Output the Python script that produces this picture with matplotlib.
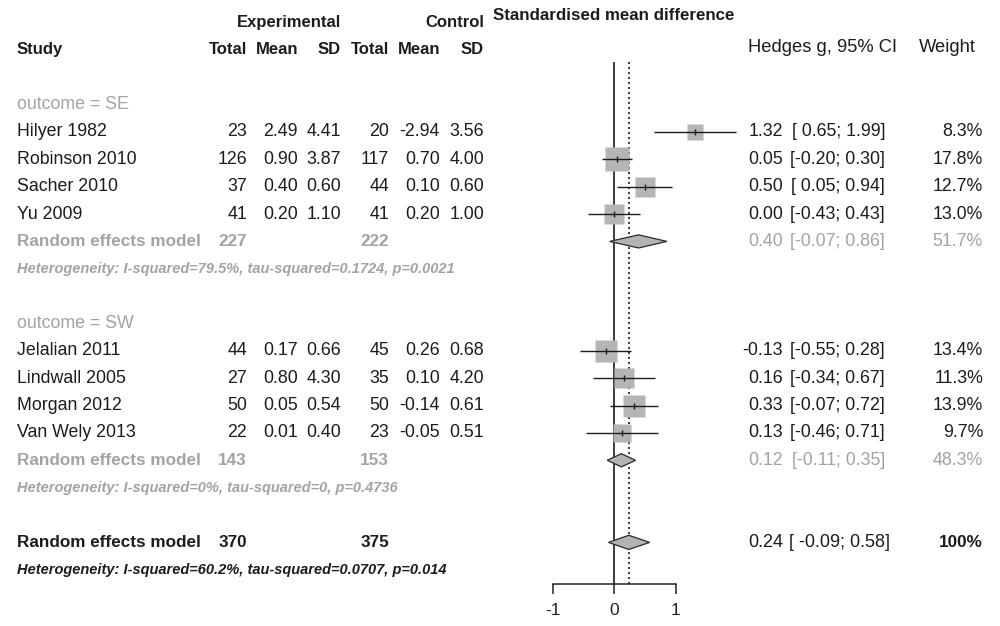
import matplotlib
matplotlib.use('Agg')
import matplotlib.pyplot as plt
from matplotlib.patches import Polygon
from matplotlib.transforms import blended_transform_factory
import numpy as np

plt.rcParams['font.family'] = ['Liberation Sans', 'DejaVu Sans']

# ---------------- data ----------------
groups = ["outcome = SE", "outcome = SW"]

studies_se = ["Hilyer 1982", "Robinson 2010", "Sacher 2010", "Yu 2009"]
exp_n_se = [23, 126, 37, 41]
exp_mean_se = [2.49, 0.90, 0.40, 0.20]
exp_sd_se = [4.41, 3.87, 0.60, 1.10]
ctl_n_se = [20, 117, 44, 41]
ctl_mean_se = [-2.94, 0.70, 0.10, 0.20]
ctl_sd_se = [3.56, 4.00, 0.60, 1.00]
g_se = [1.32, 0.05, 0.50, 0.00]
lo_se = [0.65, -0.20, 0.05, -0.43]
hi_se = [1.99, 0.30, 0.94, 0.43]
w_se = [8.3, 17.8, 12.7, 13.0]

studies_sw = ["Jelalian 2011", "Lindwall 2005", "Morgan 2012", "Van Wely 2013"]
exp_n_sw = [44, 27, 50, 22]
exp_mean_sw = [0.17, 0.80, 0.05, 0.01]
exp_sd_sw = [0.66, 4.30, 0.54, 0.40]
ctl_n_sw = [45, 35, 50, 23]
ctl_mean_sw = [0.26, 0.10, -0.14, -0.05]
ctl_sd_sw = [0.68, 4.20, 0.61, 0.51]
g_sw = [-0.13, 0.16, 0.33, 0.13]
lo_sw = [-0.55, -0.34, -0.07, -0.46]
hi_sw = [0.28, 0.67, 0.72, 0.71]
w_sw = [13.4, 11.3, 13.9, 9.7]

sub_exp_n = [227, 143]
sub_ctl_n = [222, 153]
sub_g = [0.40, 0.12]
sub_lo = [-0.07, -0.11]
sub_hi = [0.86, 0.35]
sub_w = [51.7, 48.3]
sub_het = ["Heterogeneity: I-squared=79.5%, tau-squared=0.1724, p=0.0021",
           "Heterogeneity: I-squared=0%, tau-squared=0, p=0.4736"]

all_exp_n = 370
all_ctl_n = 375
all_g = 0.24
all_lo = -0.09
all_hi = 0.58
all_w = "100%"
all_het = "Heterogeneity: I-squared=60.2%, tau-squared=0.0707, p=0.014"

x_ticks = [-1, 0, 1]

# ---------------- figure ----------------
W, H = 1000, 626
fig = plt.figure(figsize=(W / 100, H / 100), dpi=100)
ax = fig.add_axes([0, 0, 1, 1])

px_per_unit = 61.5
x0_px = 614
row0_px = 49.9
row_px = 27.36
ax.set_xlim(-x0_px / px_per_unit, (W - x0_px) / px_per_unit)
ax.set_ylim((H - row0_px) / row_px, -row0_px / row_px)
ax.patch.set_alpha(0)

axis_row = (584 - row0_px) / row_px
for s in ['top', 'right', 'left']:
    ax.spines[s].set_visible(False)
ax.spines['bottom'].set_position(('data', axis_row))
ax.spines['bottom'].set_bounds(-1, 1)
ax.spines['bottom'].set_linewidth(1.1)
ax.spines['bottom'].set_color('#222222')
ax.set_xticks(x_ticks)
ax.set_xticklabels([str(t) for t in x_ticks])
ax.tick_params(axis='x', direction='out', length=7.5, width=1.1, color='#222222',
               labelsize=12.5, pad=6, labelcolor='#222222')
ax.set_yticks([])

tr = blended_transform_factory(fig.transFigure, ax.transData)

BLACK = '#1c1c1c'
GRAY = '#a3a3a3'
FS = 12.8
FSB = 12.3


def T(xpx, row, s, ha='right', color=BLACK, weight='normal', style='normal', size=None):
    if size is None:
        size = FSB if weight == 'bold' else FS
    ax.text(xpx / W, row, s, transform=tr, ha=ha, va='center', color=color,
            fontweight=weight, fontstyle=style, fontsize=size)


col_exp_n, col_exp_mean, col_exp_sd = 247, 298, 341
col_ctl_n, col_ctl_mean, col_ctl_sd = 389, 440, 484
col_g, col_ci, col_w = 783, 885, 983
x_label = 17

# headers
T(col_exp_sd, -1, "Experimental", weight='bold', size=12)
T(col_ctl_sd, -1, "Control", weight='bold', size=12)
T(x_label, 0, "Study", ha='left', weight='bold', size=12)
for xp, s in zip([col_exp_n, col_exp_mean, col_exp_sd, col_ctl_n, col_ctl_mean, col_ctl_sd],
                 ["Total", "Mean", "SD", "Total", "Mean", "SD"]):
    T(xp, 0, s, weight='bold', size=12)
T(493, (15 - row0_px) / row_px, "Standardised mean difference", ha='left', weight='bold', size=12.2)
T(748, -0.1, "Hedges g, 95% CI", ha='left', size=13.2)
T(919, -0.1, "Weight", ha='left', size=13.2)


def ci_text(lo, hi):
    return f"[{lo:5.2f}; {hi:4.2f}]"


def square(g, lo, hi, w, r):
    ax.plot([lo, hi], [r, r], color=BLACK, lw=1.0, zorder=3, solid_capstyle='butt')
    ms = 4.18 * np.sqrt(w)
    ax.plot([g], [r], marker='s', ms=ms, color='#b5b5b5', mec='none', zorder=2)
    ax.plot([g], [r], marker='|', ms=5, mew=1.0, color=BLACK, zorder=4)


def diamond(g, lo, hi, r, h=0.24):
    poly = Polygon([(lo, r), (g, r - h), (hi, r), (g, r + h)], closed=True,
                   facecolor='#b3b3b3', edgecolor='#2a2a2a', lw=0.9, zorder=3)
    ax.add_patch(poly)


group_data = [
    (studies_se, exp_n_se, exp_mean_se, exp_sd_se, ctl_n_se, ctl_mean_se, ctl_sd_se,
     g_se, lo_se, hi_se, w_se),
    (studies_sw, exp_n_sw, exp_mean_sw, exp_sd_sw, ctl_n_sw, ctl_mean_sw, ctl_sd_sw,
     g_sw, lo_sw, hi_sw, w_sw),
]

row = 2
for gi, (names, en, em, esd, cn, cm, csd, g, lo, hi, w) in enumerate(group_data):
    T(x_label, row, groups[gi], ha='left', color=GRAY)
    row += 1
    for i in range(len(names)):
        T(x_label, row, names[i], ha='left')
        T(col_exp_n, row, f"{en[i]}")
        T(col_exp_mean, row, f"{em[i]:.2f}")
        T(col_exp_sd, row, f"{esd[i]:.2f}")
        T(col_ctl_n, row, f"{cn[i]}")
        T(col_ctl_mean, row, f"{cm[i]:.2f}")
        T(col_ctl_sd, row, f"{csd[i]:.2f}")
        T(col_g, row, f"{g[i]:.2f}")
        T(col_ci, row, ci_text(lo[i], hi[i]))
        T(col_w, row, f"{w[i]:.1f}%")
        square(g[i], lo[i], hi[i], w[i], row)
        row += 1
    T(x_label, row, "Random effects model", ha='left', color=GRAY, weight='bold')
    T(col_exp_n, row, f"{sub_exp_n[gi]}", color=GRAY, weight='bold')
    T(col_ctl_n, row, f"{sub_ctl_n[gi]}", color=GRAY, weight='bold')
    T(col_g, row, f"{sub_g[gi]:.2f}", color=GRAY)
    T(col_ci, row, ci_text(sub_lo[gi], sub_hi[gi]), color=GRAY)
    T(col_w, row, f"{sub_w[gi]:.1f}%", color=GRAY)
    diamond(sub_g[gi], sub_lo[gi], sub_hi[gi], row)
    row += 1
    T(x_label, row, sub_het[gi], ha='left', color=GRAY, weight='bold', style='italic', size=10.5)
    row += 2

# overall
row = 18
T(x_label, row, "Random effects model", ha='left', weight='bold')
T(col_exp_n, row, f"{all_exp_n}", weight='bold')
T(col_ctl_n, row, f"{all_ctl_n}", weight='bold')
T(col_g, row, f"{all_g:.2f}", size=13)
T(890, row, f"[ {all_lo:.2f}; {all_hi:.2f}]", size=13)
T(col_w, row, all_w, weight='bold')
diamond(all_g, all_lo, all_hi, row, h=0.26)
T(x_label, row + 1, all_het, ha='left', weight='bold', style='italic', size=10.5)

# reference lines
top_row = (62 - row0_px) / row_px
ax.vlines(0, top_row, axis_row, color=BLACK, lw=1.2, zorder=1)
ax.vlines(all_g, top_row, axis_row, color=BLACK, lw=1.2, linestyles=(0, (1.2, 1.8)), zorder=1)

fig.savefig('out.png', dpi=100, facecolor='white')
